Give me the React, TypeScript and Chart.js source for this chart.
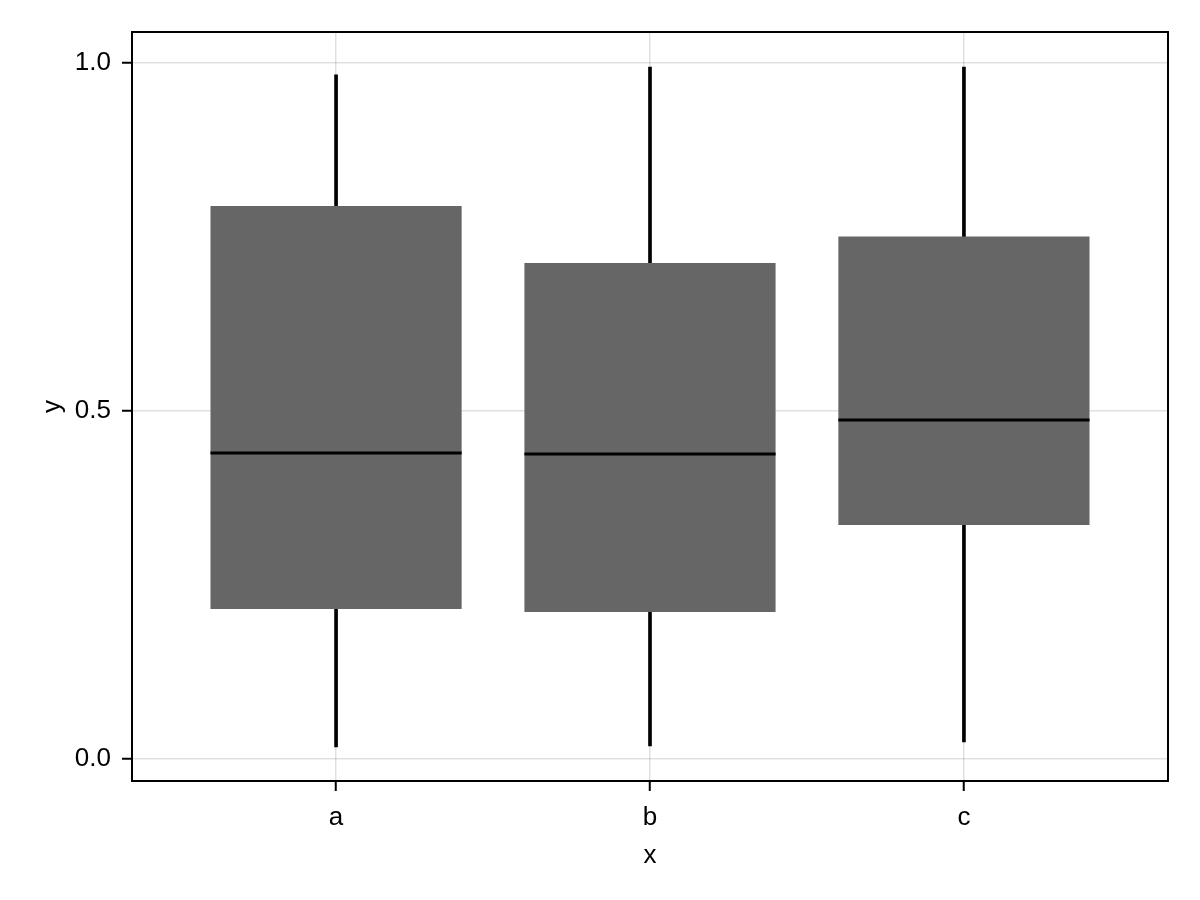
import React, { useEffect, useRef } from 'react';
import { Chart, registerables } from 'chart.js';

Chart.register(...registerables);

const categories = ['a', 'b', 'c'];
const whiskerLow = [0.0172, 0.0187, 0.0244];
const q1Values = [0.2155, 0.2112, 0.3362];
const medianValues = [0.4397, 0.4382, 0.4871];
const q3Values = [0.7945, 0.7126, 0.7507];
const whiskerHigh = [0.983, 0.994, 0.994];
const yTickValues = [0, 0.5, 1.0];

const BOX_WIDTH = 0.8;
const FONT = "'Liberation Sans', Arial, sans-serif";
const FONT_SIZE = 26;

const framePlugin = {
  id: 'frame',
  afterDraw(chart: any) {
    const { ctx, chartArea } = chart;
    const { left, top, right, bottom } = chartArea;
    ctx.save();
    ctx.strokeStyle = '#000';
    ctx.lineWidth = 2;
    ctx.strokeRect(left, top, right - left, bottom - top);
    ctx.restore();
  },
};

export default function App() {
  const canvasRef = useRef<HTMLCanvasElement | null>(null);

  useEffect(() => {
    document.body.style.margin = '0';
    const canvas = canvasRef.current;
    if (!canvas) return;

    const medianData: any[] = [];
    medianValues.forEach((m, i) => {
      medianData.push({ x: i - BOX_WIDTH / 2, y: m });
      medianData.push({ x: i + BOX_WIDTH / 2, y: m });
      medianData.push({ x: i + BOX_WIDTH / 2, y: null });
    });

    const chart = new Chart(canvas, {
      type: 'bar',
      data: {
        datasets: [
          {
            type: 'line',
            data: medianData,
            borderColor: '#000',
            borderWidth: 3,
            pointRadius: 0,
            spanGaps: false,
            order: 1,
          } as any,
          {
            type: 'bar',
            data: categories.map((_, i) => ({ x: i, y: [q1Values[i], q3Values[i]] })),
            backgroundColor: '#666666',
            categoryPercentage: BOX_WIDTH,
            barPercentage: 1,
            grouped: false,
            order: 2,
          } as any,
          {
            type: 'bar',
            data: categories.map((_, i) => ({ x: i, y: [whiskerLow[i], whiskerHigh[i]] })),
            backgroundColor: '#000',
            barThickness: 3,
            grouped: false,
            order: 3,
          } as any,
        ],
      },
      options: {
        responsive: false,
        animation: false,
        devicePixelRatio: 1,
        layout: { padding: { top: 32, right: 32, left: 0, bottom: 0 } },
        plugins: { legend: { display: false }, tooltip: { enabled: false } },
        scales: {
          x: {
            type: 'linear',
            offset: false,
            min: -0.65,
            max: categories.length - 1 + 0.65,
            afterBuildTicks: (s: any) => {
              s.ticks = categories.map((_, i) => ({ value: i }));
            },
            afterFit: (s: any) => {
              s.height = 119;
            },
            ticks: {
              autoSkip: false,
              maxRotation: 0,
              padding: 11,
              color: '#000',
              font: { family: FONT, size: FONT_SIZE },
              callback: (v: any) => categories[Math.round(v)] ?? '',
            },
            grid: {
              offset: false,
              color: 'rgba(0,0,0,0.12)',
              lineWidth: 1.5,
              drawTicks: true,
              tickLength: 10,
              tickWidth: 2,
              tickColor: '#000',
            },
            border: { display: false },
            title: {
              display: true,
              text: 'x',
              color: '#000',
              font: { family: FONT, size: FONT_SIZE },
              padding: { bottom: 29, top: 0 },
            },
          },
          y: {
            type: 'linear',
            min: -0.0316,
            max: 1.0445,
            afterBuildTicks: (s: any) => {
              s.ticks = yTickValues.map((v) => ({ value: v }));
            },
            afterFit: (s: any) => {
              s.width = 132;
            },
            ticks: {
              padding: 11,
              color: '#000',
              font: { family: FONT, size: FONT_SIZE },
              callback: (v: any) => Number(v).toFixed(1),
            },
            grid: {
              color: 'rgba(0,0,0,0.12)',
              lineWidth: 1.5,
              drawTicks: true,
              tickLength: 10,
              tickWidth: 2,
              tickColor: '#000',
            },
            border: { display: false },
            title: {
              display: true,
              text: 'y',
              color: '#000',
              font: { family: FONT, size: FONT_SIZE },
              padding: { top: 37, bottom: 0 },
            },
          },
        },
      },
      plugins: [framePlugin],
    });

    return () => chart.destroy();
  }, []);

  return (
    <div style={{ width: 1200, height: 900, background: '#fff' }}>
      <canvas ref={canvasRef} width={1200} height={900} />
    </div>
  );
}
